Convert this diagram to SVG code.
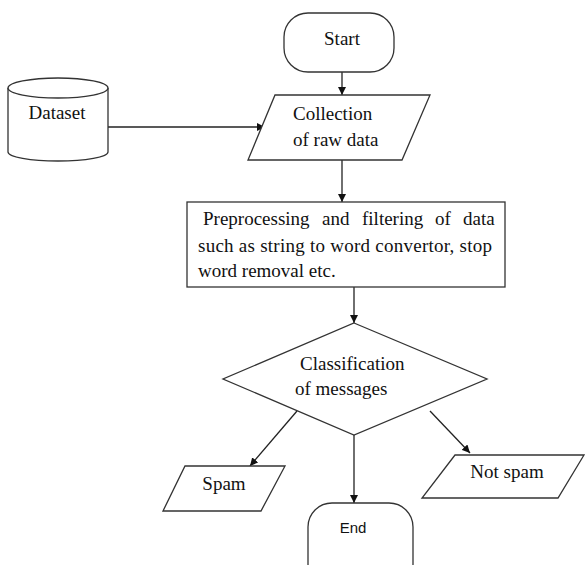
<svg xmlns="http://www.w3.org/2000/svg" width="585" height="565" viewBox="0 0 585 565">
<defs>
<marker id="ah" viewBox="0 0 10 10" refX="10" refY="5" markerWidth="8" markerHeight="8" markerUnits="userSpaceOnUse" orient="auto">
<path d="M0,0 L10,5 L0,10 z" fill="#111"/>
</marker>
<style>
.s{fill:#fff;stroke:#333;stroke-width:1.3}
.t{font-family:"Liberation Serif","Times New Roman",serif;font-size:19px;fill:#111}
.c{stroke:#222;stroke-width:1.3;fill:none;marker-end:url(#ah)}
</style>
</defs>
<rect width="585" height="565" fill="#fff"/>
<g id="connectors">
<line class="c" x1="342" y1="72" x2="342" y2="95"/>
<line class="c" x1="108" y1="127" x2="265" y2="127"/>
<line class="c" x1="342" y1="160" x2="342" y2="202"/>
<line class="c" x1="354" y1="287" x2="354" y2="323"/>
<line class="c" x1="297" y1="411" x2="250" y2="466"/>
<line class="c" x1="430" y1="411" x2="470" y2="453"/>
<line class="c" x1="354" y1="435" x2="354" y2="503"/>
</g>
<g id="start">
<rect class="s" x="284" y="13" width="110" height="59" rx="24"/>
<text class="t" x="342" y="45" text-anchor="middle">Start</text>
</g>
<g id="dataset">
<path class="s" d="M8,88 L8,152 A50,9 0 0 0 108,152 L108,88"/>
<ellipse class="s" cx="58" cy="88" rx="50" ry="10"/>
<text class="t" x="57" y="119" text-anchor="middle">Dataset</text>
</g>
<g id="collection">
<polygon class="s" points="275,95 430,95 402,160 248,160"/>
<text class="t" x="293" y="120">Collection</text>
<text class="t" x="293" y="146">of raw data</text>
</g>
<g id="preprocessing">
<rect class="s" x="187" y="202" width="318" height="85"/>
<text class="t" y="225"><tspan x="203">Preprocessing</tspan><tspan x="322">and</tspan><tspan x="362">filtering</tspan><tspan x="435">of</tspan><tspan x="463">data</tspan></text>
<text class="t" x="198" y="252" textLength="294" lengthAdjust="spacing">such as string to word convertor, stop</text>
<text class="t" x="198" y="277">word removal etc.</text>
</g>
<g id="classification">
<polygon class="s" points="354,323 487,379 354,435 223,379"/>
<text class="t" x="300" y="370">Classification</text>
<text class="t" x="295" y="395">of messages</text>
</g>
<g id="spam">
<polygon class="s" points="185,466 285,466 261,511 163,511"/>
<text class="t" x="224" y="490" text-anchor="middle">Spam</text>
</g>
<g id="notspam">
<polygon class="s" points="455,455 584,455 558,498 422,498"/>
<text class="t" x="507" y="478" text-anchor="middle">Not spam</text>
</g>
<g id="end">
<rect class="s" x="308" y="503" width="105" height="85" rx="24"/>
<text x="353" y="533" text-anchor="middle" style="font-family:'Liberation Sans',Arial,sans-serif;font-size:15px;fill:#111">End</text>
</g>
</svg>
